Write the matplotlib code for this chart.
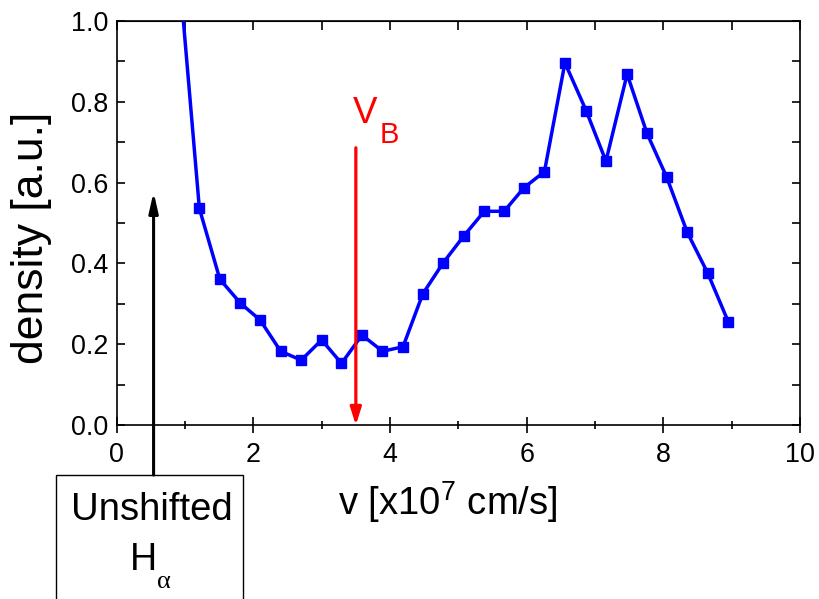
import matplotlib
matplotlib.use("Agg")
import matplotlib.pyplot as plt
from matplotlib.patches import Rectangle
from matplotlib.ticker import MultipleLocator, FormatStrFormatter

plt.rcParams['font.family'] = ['Liberation Sans', 'DejaVu Sans']
plt.rcParams['mathtext.fontset'] = 'custom'
plt.rcParams['mathtext.rm'] = 'Liberation Sans'
plt.rcParams['mathtext.it'] = 'Liberation Sans:italic'

# velocity (x10^7 cm/s) and density (a.u.)
velocity = [0.91, 1.21, 1.51, 1.81, 2.10, 2.40, 2.70, 3.00, 3.29, 3.59,
            3.89, 4.19, 4.48, 4.78, 5.08, 5.38, 5.67, 5.96, 6.26, 6.56,
            6.87, 7.16, 7.47, 7.76, 8.05, 8.35, 8.65, 8.95]
density = [1.13, 0.536, 0.361, 0.302, 0.260, 0.183, 0.161, 0.211, 0.153, 0.223,
           0.183, 0.194, 0.325, 0.402, 0.468, 0.529, 0.529, 0.587, 0.627, 0.896,
           0.778, 0.653, 0.868, 0.722, 0.613, 0.477, 0.376, 0.256]

v_beam = 3.5          # beam velocity marker
v_beam_top = 0.686
v_unshifted = 0.54    # unshifted H-alpha position
v_unshifted_top = 0.577

fig = plt.figure(figsize=(8.2, 5.99), dpi=100)
ax = fig.add_axes([0.1423, 0.29, 0.8333, 0.6754])

ax.plot(velocity, density, color='#0000ff', lw=2.5, marker='s', ms=7.2,
        mec='#0000ff', mfc='#0000ff', zorder=3)

# V_B arrow
ax.annotate('', xy=(v_beam, 0), xytext=(v_beam, v_beam_top),
            arrowprops=dict(arrowstyle='-|>,head_length=0.7,head_width=0.22',
                            mutation_scale=15, color='#ff0000', lw=2.3,
                            shrinkA=0, shrinkB=0), zorder=4)
ax.text(3.46, 0.747, 'V', color='#ff0000', fontsize=26.5, ha='left', va='baseline')
ax.text(3.855, 0.698, 'B', color='#ff0000', fontsize=21, ha='left', va='baseline')

# unshifted H-alpha arrow, running down into the box below the axes
ax.annotate('', xy=(v_unshifted, v_unshifted_top), xytext=(v_unshifted, -0.123),
            arrowprops=dict(arrowstyle='-|>,head_length=0.8,head_width=0.18',
                            mutation_scale=15, color='black', lw=2.2,
                            shrinkA=0, shrinkB=0, clip_on=False),
            annotation_clip=False, zorder=4)

fig.add_artist(Rectangle((0.0683, -0.1), 0.2284, 0.307, transform=fig.transFigure,
                         fill=False, edgecolor='black', lw=1.0, clip_on=False))
fig.text(0.185, 0.1319, 'Unshifted', fontsize=27.5, ha='center', va='baseline')
fig.text(0.1585, 0.0484, 'H', fontsize=27, ha='left', va='baseline')
fig.text(0.1915, 0.0184, 'α', fontsize=19, ha='left', va='baseline',
         family=['Liberation Serif', 'DejaVu Serif'])

ax.set_xlim(0, 10)
ax.set_ylim(0, 1.0)
ax.xaxis.set_major_locator(MultipleLocator(2))
ax.xaxis.set_minor_locator(MultipleLocator(1))
ax.yaxis.set_major_locator(MultipleLocator(0.2))
ax.yaxis.set_minor_locator(MultipleLocator(0.1))
ax.yaxis.set_major_formatter(FormatStrFormatter('%.1f'))

ax.tick_params(axis='x', which='major', direction='inout', length=11.5, width=1.2,
               labelsize=19.4, pad=6.5, top=False)
ax.tick_params(axis='x', which='minor', direction='inout', length=5.5, width=1.2,
               top=False)
ax.tick_params(axis='y', which='both', direction='in', length=6, width=1.2,
               labelsize=19.4, pad=6, left=True, right=True)

top = ax.secondary_xaxis('top')
top.xaxis.set_major_locator(MultipleLocator(2))
top.xaxis.set_minor_locator(MultipleLocator(1))
top.tick_params(axis='x', which='both', direction='in', length=6.5, width=1.2,
                labeltop=False)

for sp in ax.spines.values():
    sp.set_linewidth(1.2)

ax.set_xlabel(r'v [x10$^\mathregular{7}$ cm/s]', fontsize=27.5, va='baseline')
ax.xaxis.set_label_coords(0.485, -0.2217)
ax.set_ylabel('density [a.u.]', fontsize=32, va='baseline')
ax.yaxis.set_label_coords(-0.1079, 0.464)

fig.savefig('out.png', dpi=100)
